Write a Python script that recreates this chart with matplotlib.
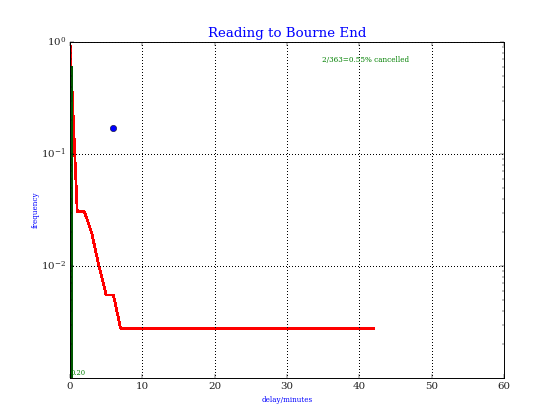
import matplotlib
matplotlib.use("Agg")
import matplotlib.pyplot as plt

plt.style.use("classic")
plt.rcParams["font.family"] = ["DejaVu Serif"]
plt.rcParams["lines.antialiased"] = False

# fraction of trains delayed by at least the given number of minutes
delay = [0, 1, 2, 3, 4, 5, 6, 7, 42]
frequency = [1.0, 0.0305, 0.0305, 0.0197, 0.0100, 0.0055, 0.0055, 0.00277, 0.00277]

mean_delay = 0.20
mean_marker = (5.9, 0.172)
green_top = 0.6
cancel_text = "2/363=0.55% cancelled"

fig = plt.figure(figsize=(8, 6), dpi=70)
ax = fig.add_axes([0.125, 0.1, 0.775, 0.8])

ax.set_yscale("log")
ax.plot(delay, frequency, color="red", lw=1.8)
ax.plot([0.1, 0.1], [1e-3, green_top], color=(0, 0.35, 0), lw=1.2)
ax.plot([mean_marker[0]], [mean_marker[1]], "o", color="blue",
        markeredgecolor="black", markersize=6.5)

ax.set_xlim(0, 60)
ax.set_ylim(1e-3, 1)
ax.set_yticks([1e-2, 1e-1, 1])
ax.grid(True, color="black", linestyle=":", lw=1)
ax.tick_params(labelsize=10.5, labelcolor="#222222")

ax.text(0.1, 1.02e-3, "%.2f" % mean_delay, color="green",
        fontsize=7, va="bottom", ha="left")
ax.text(0.682, 0.947, cancel_text, transform=ax.transAxes, color="green",
        fontsize=7.5, ha="center", va="center")

ax.set_title("Reading to Bourne End", color="blue", fontsize=13.75)
ax.set_xlabel("delay/minutes", color="blue", fontsize=7.5)
ax.set_ylabel("frequency", color="blue", fontsize=7.5)
ax.yaxis.set_label_coords(-0.07, 0.5)

fig.savefig("out.png", dpi=70)
